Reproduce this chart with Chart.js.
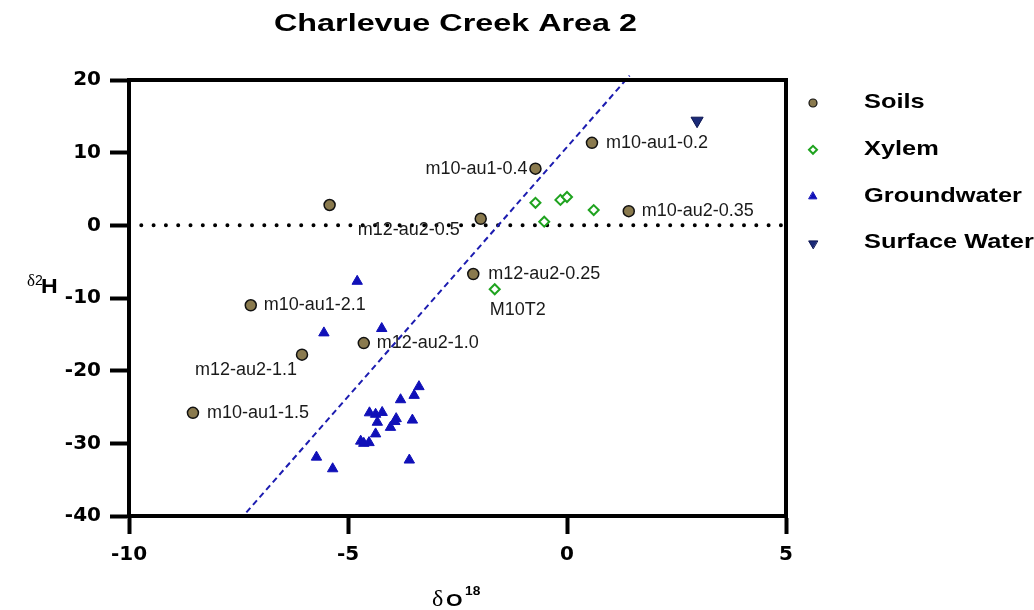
<!DOCTYPE html>
<html lang="en">
<head>
<meta charset="UTF-8">
<title>Charlevue Creek Area 2</title>
<script src="https://cdn.jsdelivr.net/npm/chart.js"></script>
<style>
  body { margin: 0; background: #fff; }
  #wrap { width: 1034px; height: 610px; }
</style>
</head>
<body>
<div id="wrap"><canvas id="isoChart"></canvas></div>
<script>
// axis ticks
const xTicks = [-10, -5, 0, 5];
const yTicks = [-40, -30, -20, -10, 0, 10, 20];

// Soils
const soilX = [-5.42, -1.97, -0.72, 0.57, 1.41, -2.14, -7.22, -4.64, -6.05, -8.54];
const soilY = [2.8, 0.9, 7.8, 11.35, 1.95, -6.7, -11.0, -16.2, -17.8, -25.8];
const soilLabels = ['', 'm12-au2-0.5', 'm10-au1-0.4', 'm10-au1-0.2', 'm10-au2-0.35',
                    'm12-au2-0.25', 'm10-au1-2.1', 'm12-au2-1.0', 'm12-au2-1.1', 'm10-au1-1.5'];

// Xylem
const xylemX = [-0.72, -0.52, -0.15, 0.0, 0.61, -1.65];
const xylemY = [3.1, 0.5, 3.5, 3.9, 2.1, -8.8];
const xylemLabels = ['', '', '', '', '', 'M10T2'];

// Groundwater
const gwX = [-4.79, -5.55, -4.23, -3.38, -3.49, -3.80, -4.51, -4.37, -4.22, -4.33, -3.90,
             -3.93, -4.03, -3.53, -4.37, -4.71, -4.64, -4.52, -5.72, -5.35, -3.60];
const gwY = [-7.7, -14.8, -14.2, -22.2, -23.4, -24.0, -25.8, -26.0, -25.75, -27.1, -26.6,
             -27.0, -27.8, -26.8, -28.7, -29.7, -30.0, -29.9, -31.9, -33.5, -32.3];

// Surface Water
const swX = [2.97];
const swY = [14.4];

// dashed reference line (end points)
const lineX = [-7.32, 1.43];
const lineY = [-39.5, 20.6];

// dotted zero line
const zeroX = [-10, 5];
const zeroY = [0, 0];

// where each point label sits relative to its point: [align, dx, dy]
const soilLabelPos = [null, ['right', -21, 11], ['right', -8, 0], ['left', 14, 0], ['left', 13, 0],
                      ['left', 15, 0], ['left', 13, 0], ['left', 13, 0], ['right', -5, 15], ['left', 14, 0]];
const xylemLabelPos = [null, null, null, null, null, ['left', -5, 21]];

const FONT = 'Liberation Sans, Arial, Helvetica, sans-serif';
const SERIF = 'Liberation Serif, Times New Roman, serif';

function toPoints(xs, ys) {
    return xs.map((x, i) => ({ x: x, y: ys[i] }));
}

// bold text in the original is wide, so stretch it horizontally
function stretchText(ctx, text, x, y, sx) {
    ctx.save();
    ctx.translate(x, y);
    ctx.scale(sx, 1);
    ctx.textAlign = 'left';
    ctx.fillText(text, 0, 0);
    ctx.restore();
}

const legendItems = [
    { text: 'Soils', style: 'circle', r: 4, fill: '#8a7a4e', stroke: '#111', bw: 1.2, rot: 0 },
    { text: 'Xylem', style: 'rectRot', r: 4, fill: '#fff', stroke: '#1fa31f', bw: 2, rot: 0 },
    { text: 'Groundwater', style: 'triangle', r: 4.5, fill: '#1010b8', stroke: '#1010b8', bw: 1, rot: 0 },
    { text: 'Surface Water', style: 'triangle', r: 5, fill: '#1b2a78', stroke: '#0b1450', bw: 1, rot: 180 }
];

const decor = {
    id: 'decor',
    afterDatasetsDraw(chart) {
        const ctx = chart.ctx;
        ctx.save();
        ctx.font = '18px ' + FONT;
        ctx.fillStyle = '#1a1a1a';
        ctx.textBaseline = 'middle';
        const drawLabels = (dsIndex, labels, pos) => {
            const meta = chart.getDatasetMeta(dsIndex);
            labels.forEach((lab, i) => {
                if (!lab || !pos[i]) return;
                const pt = meta.data[i];
                ctx.textAlign = pos[i][0];
                ctx.fillText(lab, pt.x + pos[i][1], pt.y + pos[i][2]);
            });
        };
        drawLabels(0, soilLabels, soilLabelPos);
        drawLabels(1, xylemLabels, xylemLabelPos);
        ctx.restore();
    },
    afterDraw(chart) {
        const ctx = chart.ctx;
        const a = chart.chartArea;
        ctx.save();

        // top and right frame lines
        ctx.strokeStyle = '#000';
        ctx.lineWidth = 4;
        ctx.lineCap = 'square';
        ctx.beginPath();
        ctx.moveTo(a.left, a.top);
        ctx.lineTo(a.right, a.top);
        ctx.lineTo(a.right, a.bottom);
        ctx.stroke();

        // title
        ctx.fillStyle = '#000';
        ctx.textBaseline = 'alphabetic';
        ctx.font = 'bold 23px ' + FONT;
        const title = 'Charlevue Creek Area 2';
        stretchText(ctx, title, 274, 31, 363 / ctx.measureText(title).width);

        // x axis title
        ctx.font = '24px ' + SERIF;
        ctx.fillText('δ', 432, 606);
        ctx.font = 'bold 17px ' + FONT;
        stretchText(ctx, 'O', 446, 606, 1.25);
        ctx.font = 'bold 12.5px ' + FONT;
        stretchText(ctx, '18', 465, 595, 1.1);

        // y axis title
        ctx.font = '17px ' + SERIF;
        ctx.fillText('δ', 27, 286);
        ctx.font = '14px ' + FONT;
        ctx.fillText('2', 35, 285);
        ctx.font = 'bold 21px ' + FONT;
        stretchText(ctx, 'H', 41, 293, 1.1);

        // legend
        ctx.font = 'bold 21px ' + FONT;
        const sx = 158 / ctx.measureText('Groundwater').width;
        legendItems.forEach((it, i) => {
            const ty = 108 + i * 46.8;
            ctx.fillStyle = '#000';
            stretchText(ctx, it.text, 864, ty, sx);
            ctx.fillStyle = it.fill;
            ctx.strokeStyle = it.stroke;
            ctx.lineWidth = it.bw;
            if (Chart.helpers && Chart.helpers.drawPoint) {
                Chart.helpers.drawPoint(ctx, { pointStyle: it.style, rotation: it.rot, radius: it.r, borderWidth: it.bw }, 813, ty - 5);
            }
        });
        ctx.restore();
    }
};

const axisFont = { family: 'DejaVu Sans, Liberation Sans, sans-serif', size: 20, weight: 'bold' };

new Chart(document.getElementById('isoChart'), {
    type: 'scatter',
    data: {
        datasets: [
            {
                label: 'Soils',
                data: toPoints(soilX, soilY),
                pointStyle: 'circle',
                pointRadius: 5.5,
                pointBackgroundColor: '#8a7a4e',
                pointBorderColor: '#111',
                pointBorderWidth: 1.5
            },
            {
                label: 'Xylem',
                data: toPoints(xylemX, xylemY),
                pointStyle: 'rectRot',
                pointRadius: 5,
                pointBackgroundColor: '#fff',
                pointBorderColor: '#1fa31f',
                pointBorderWidth: 2
            },
            {
                label: 'Groundwater',
                data: toPoints(gwX, gwY),
                pointStyle: 'triangle',
                pointRadius: 6,
                pointBackgroundColor: '#1010b8',
                pointBorderColor: '#1010b8',
                pointBorderWidth: 1
            },
            {
                label: 'Surface Water',
                data: toPoints(swX, swY),
                pointStyle: 'triangle',
                pointRotation: 180,
                pointRadius: 7,
                pointBackgroundColor: '#1b2a78',
                pointBorderColor: '#0b1450',
                pointBorderWidth: 1
            },
            {
                label: 'reference',
                data: toPoints(lineX, lineY),
                showLine: true,
                pointRadius: 0,
                borderColor: '#1c1cb0',
                borderWidth: 2,
                borderDash: [6, 4],
                clip: false
            },
            {
                label: 'zero',
                data: toPoints(zeroX, zeroY),
                showLine: true,
                pointRadius: 0,
                borderColor: '#000',
                borderWidth: 4,
                borderDash: [0, 12.3],
                borderCapStyle: 'round'
            }
        ]
    },
    options: {
        responsive: true,
        maintainAspectRatio: false,
        animation: false,
        events: [],
        layout: { padding: { top: 80, right: 248, left: 0, bottom: 0 } },
        plugins: {
            legend: { display: false },
            tooltip: { enabled: false },
            title: { display: false }
        },
        scales: {
            x: {
                type: 'linear',
                min: -10,
                max: 5,
                afterBuildTicks: s => { s.ticks = xTicks.map(v => ({ value: v })); },
                afterFit: s => { s.height = 94; },
                grid: { drawOnChartArea: false, drawTicks: true, tickLength: 18, tickWidth: 4, tickColor: '#000' },
                border: { display: true, width: 4, color: '#000' },
                ticks: { color: '#000', font: axisFont, padding: 9, maxRotation: 0 }
            },
            y: {
                type: 'linear',
                min: -40,
                max: 20,
                afterBuildTicks: s => { s.ticks = yTicks.map(v => ({ value: v })); },
                afterFit: s => { s.width = 129; },
                grid: { drawOnChartArea: false, drawTicks: true, tickLength: 19, tickWidth: 4, tickColor: '#000' },
                border: { display: true, width: 4, color: '#000' },
                ticks: { color: '#000', font: axisFont, padding: 9 }
            }
        }
    },
    plugins: [decor]
});
</script>
</body>
</html>
